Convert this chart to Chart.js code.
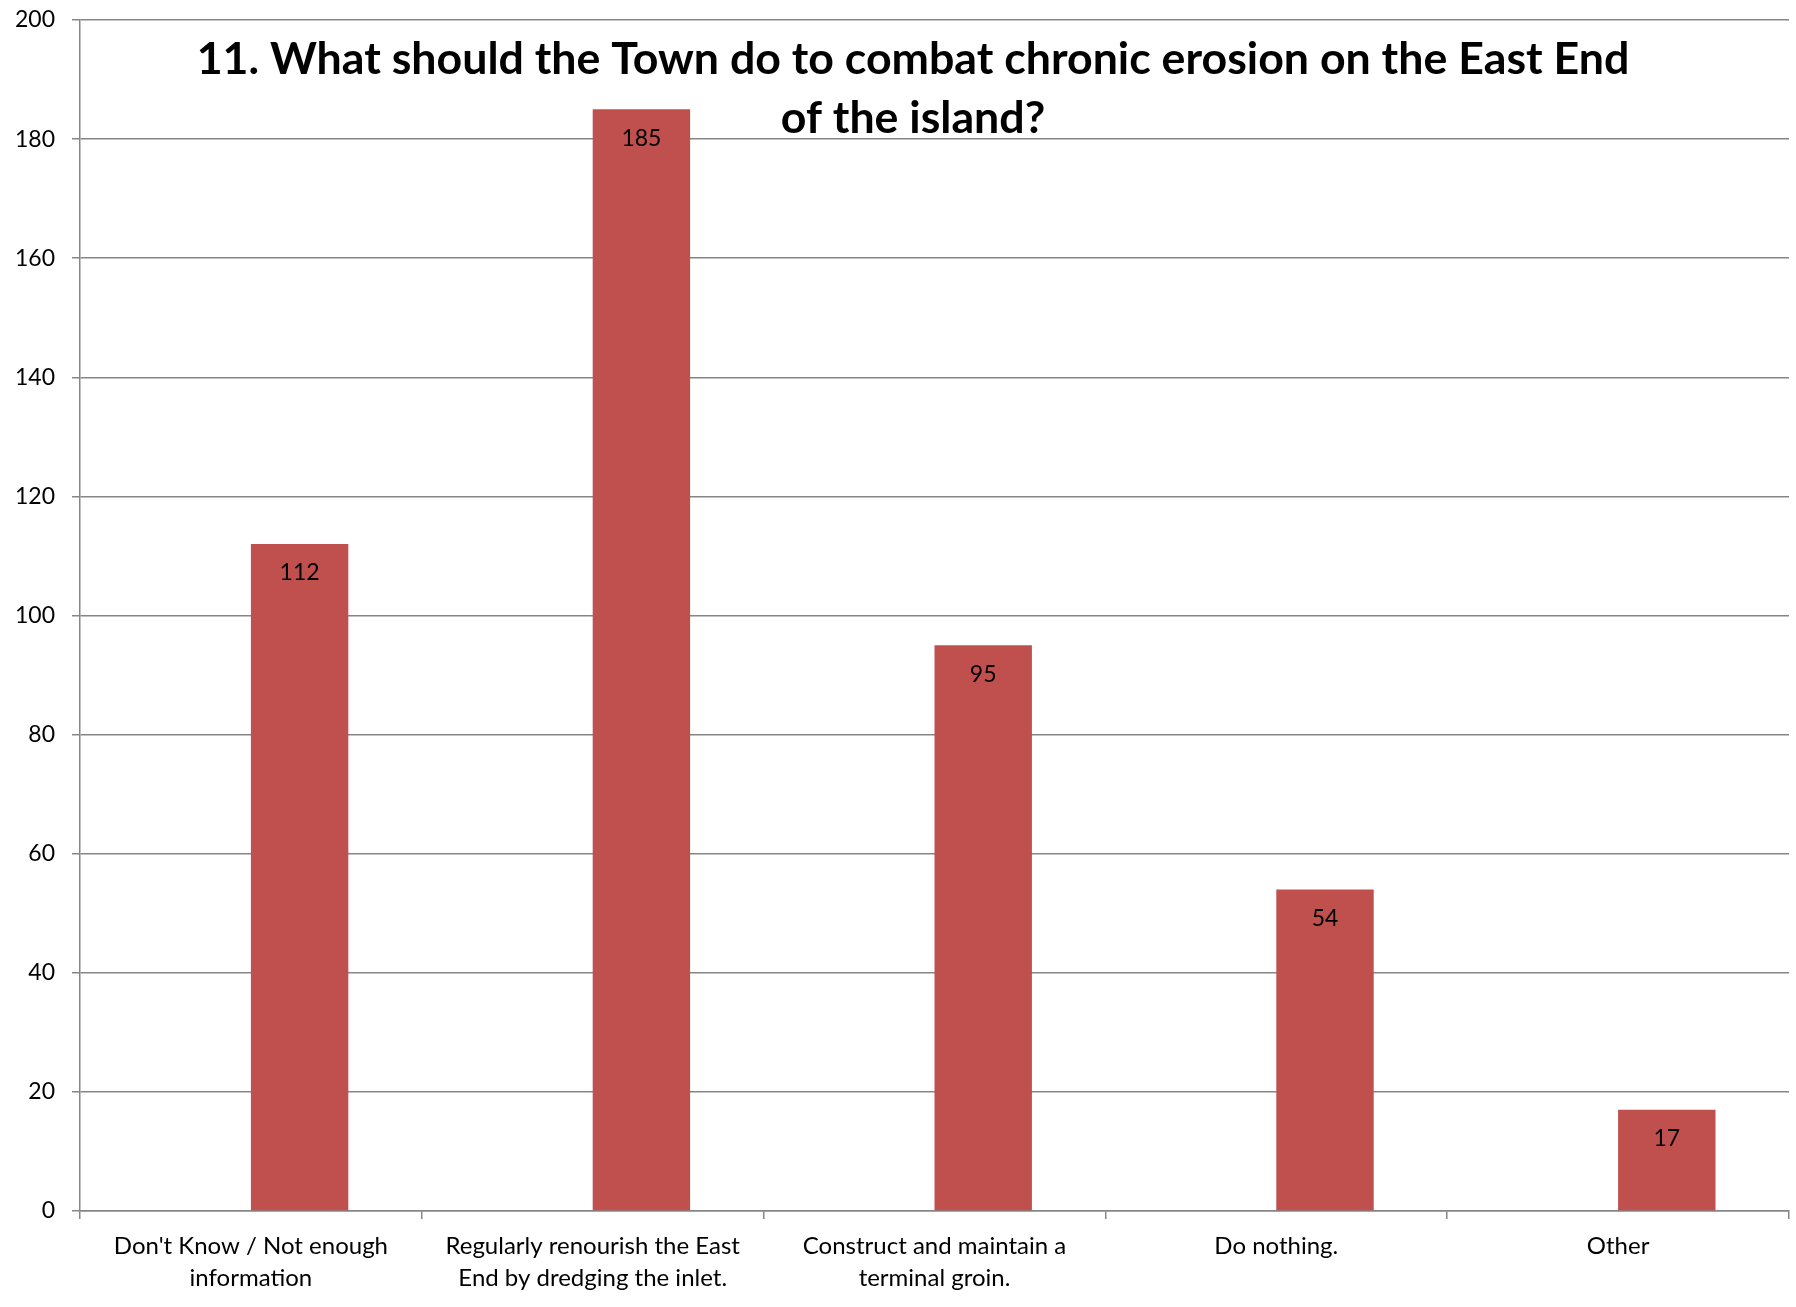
<!DOCTYPE html>
<html>
<head>
<meta charset="utf-8">
<script src="https://cdn.jsdelivr.net/npm/chart.js@4/dist/chart.umd.min.js"></script>
<style>
  html, body { margin: 0; padding: 0; background: #fff; }
  #wrap { width: 1796px; height: 1307px; position: relative; }
</style>
</head>
<body>
<div id="wrap"><canvas id="chart"></canvas></div>
<script>
const categories = [
  ["Don't Know / Not enough", "information"],
  ["Regularly renourish the East", "End by dredging the inlet."],
  ["Construct and maintain a", "terminal groin."],
  ["Do nothing."],
  ["Other"]
];
const responses = [112, 185, 95, 54, 17];
const titleLines = [
  "11. What should the Town do to combat chronic erosion on the East End",
  "of the island?"
];

const FONT = "Lato, 'Open Sans', sans-serif";

// bar value inside the top of each bar
const valueLabels = {
  id: "valueLabels",
  afterDatasetsDraw(chart) {
    const ctx = chart.ctx;
    const meta = chart.getDatasetMeta(1);
    ctx.save();
    ctx.font = "23px " + FONT;
    ctx.fillStyle = "#000";
    ctx.textAlign = "center";
    ctx.textBaseline = "middle";
    meta.data.forEach((bar, i) => {
      ctx.fillText(String(responses[i]), bar.x, bar.y + 29);
    });
    ctx.restore();
  }
};

// title sits over the plot area like in the original
const overlayTitle = {
  id: "overlayTitle",
  afterDraw(chart) {
    const ctx = chart.ctx;
    ctx.save();
    ctx.font = "bold 44.7px " + FONT;
    ctx.fillStyle = "#000";
    ctx.textAlign = "center";
    ctx.textBaseline = "middle";
    titleLines.forEach((line, i) => {
      ctx.fillText(line, 913, 60 + i * 58.5);
    });
    ctx.restore();
  }
};

new Chart(document.getElementById("chart"), {
  type: "bar",
  data: {
    labels: categories,
    datasets: [
      { label: "", data: responses.map(() => null), backgroundColor: "#4F81BD" },
      { label: "Responses", data: responses, backgroundColor: "#C0504D" }
    ]
  },
  options: {
    responsive: true,
    maintainAspectRatio: false,
    animation: false,
    events: [],
    layout: { padding: { top: 20, right: 7, left: 0, bottom: 0 } },
    plugins: {
      legend: { display: false },
      title: { display: false },
      tooltip: { enabled: false }
    },
    datasets: {
      bar: { categoryPercentage: 0.57, barPercentage: 1.0 }
    },
    scales: {
      x: {
        offset: true,
        grid: {
          display: true,
          offset: true,
          drawOnChartArea: false,
          drawTicks: true,
          tickLength: 8,
          color: "#868686",
          lineWidth: 1.5
        },
        border: { display: true, color: "#868686", width: 1.5 },
        ticks: {
          color: "#000",
          padding: 11,
          maxRotation: 0,
          autoSkip: false,
          font: { family: FONT, size: 24, lineHeight: 1.35 }
        },
        afterFit(scale) {
          scale.height = 96;
          scale.paddingLeft = 0;
          scale.paddingRight = 0;
        }
      },
      y: {
        min: 0,
        max: 200,
        ticks: {
          stepSize: 20,
          color: "#000",
          padding: 17,
          font: { family: FONT, size: 23 }
        },
        grid: {
          color: "#868686",
          lineWidth: 1.5,
          tickLength: 8
        },
        border: { display: true, color: "#868686", width: 1.5 },
        afterFit(scale) {
          scale.width = 80;
          scale.paddingTop = 0;
          scale.paddingBottom = 0;
        }
      }
    }
  },
  plugins: [valueLabels, overlayTitle]
});
</script>
</body>
</html>
